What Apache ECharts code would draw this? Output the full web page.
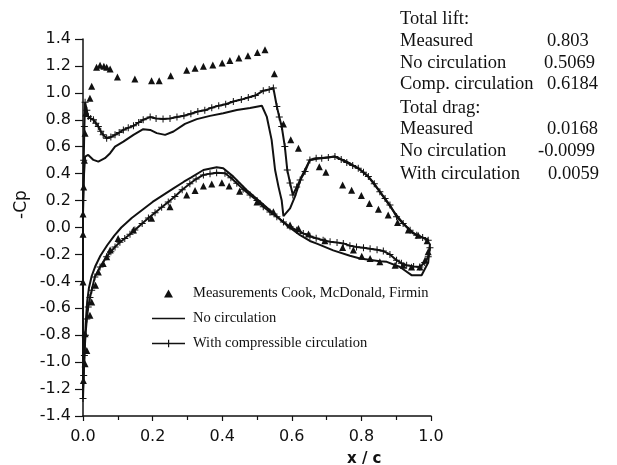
<!DOCTYPE html>
<html><head><meta charset="utf-8">
<script src="https://cdn.jsdelivr.net/npm/echarts@6/dist/echarts.min.js"></script>
<style>html,body{margin:0;padding:0;background:#fff}#c{width:617px;height:465px}</style>
</head><body><div id="c"></div>
<script>
// Measurements (Cook, McDonald, Firmin)
const measUpperX = [0.000,0.000,0.002,0.004,0.006,0.008,0.020,0.025,0.039,0.049,0.060,0.068,0.078,0.099,0.149,0.197,0.219,0.252,0.298,0.322,0.346,0.373,0.400,0.422,0.448,0.474,0.501,0.523,0.550,0.576,0.597,0.619,0.679,0.698,0.746,0.772,0.800,0.823,0.849,0.877,0.904,0.935,0.963,0.989];
const measUpperY = [-0.05,0.10,0.30,0.50,0.70,0.85,0.96,1.05,1.19,1.205,1.198,1.19,1.178,1.118,1.103,1.09,1.09,1.127,1.168,1.182,1.197,1.207,1.222,1.241,1.259,1.276,1.30,1.32,1.142,0.768,0.651,0.589,0.452,0.41,0.316,0.276,0.238,0.179,0.135,0.092,0.038,-0.019,-0.057,-0.099];
const measLowerX = [0.001,0.006,0.011,0.006,0.000,0.020,0.025,0.036,0.044,0.058,0.068,0.078,0.101,0.145,0.197,0.250,0.298,0.322,0.346,0.370,0.399,0.420,0.450,0.500,0.547,0.595,0.619,0.648,0.695,0.746,0.777,0.801,0.825,0.853,0.897,0.920,0.944,0.968,0.983,0.992];
const measLowerY = [-1.136,-1.012,-0.913,-0.79,-0.404,-0.652,-0.553,-0.429,-0.33,-0.267,-0.218,-0.168,-0.081,-0.019,0.068,0.154,0.241,0.275,0.308,0.323,0.333,0.308,0.27,0.19,0.117,0.018,-0.007,-0.049,-0.099,-0.148,-0.168,-0.213,-0.23,-0.255,-0.28,-0.28,-0.293,-0.293,-0.243,-0.181];

// No circulation (leading edge -> trailing edge)
const noCircUpperX = [0.000,0.003,0.006,0.015,0.030,0.044,0.063,0.078,0.092,0.116,0.145,0.173,0.193,0.212,0.236,0.260,0.293,0.327,0.365,0.403,0.442,0.480,0.514,0.528,0.542,0.552,0.562,0.571,0.576,0.595,0.609,0.628,0.652,0.681,0.724,0.758,0.791,0.820,0.849,0.873,0.897,0.920,0.949,0.972,0.992];
const noCircUpperY = [0.10,0.40,0.527,0.539,0.502,0.489,0.515,0.552,0.601,0.638,0.688,0.73,0.725,0.701,0.688,0.713,0.77,0.805,0.829,0.849,0.872,0.887,0.904,0.824,0.651,0.427,0.30,0.20,0.085,0.142,0.229,0.378,0.502,0.515,0.527,0.489,0.44,0.378,0.279,0.191,0.105,0.03,-0.044,-0.07,-0.094];
const noCircLowerX = [0.000,0.004,0.008,0.012,0.017,0.025,0.035,0.050,0.070,0.090,0.110,0.140,0.170,0.200,0.230,0.260,0.290,0.310,0.346,0.384,0.403,0.432,0.470,0.509,0.547,0.585,0.624,0.652,0.672,0.719,0.767,0.796,0.853,0.873,0.911,0.944,0.973,0.992,0.997];
const noCircLowerY = [-1.20,-0.95,-0.70,-0.55,-0.45,-0.36,-0.29,-0.21,-0.13,-0.06,0.00,0.07,0.13,0.19,0.24,0.29,0.34,0.37,0.427,0.447,0.44,0.378,0.279,0.191,0.105,0.018,-0.057,-0.10,-0.12,-0.17,-0.21,-0.23,-0.25,-0.255,-0.293,-0.354,-0.354,-0.26,-0.12];

// With compressible circulation (leading edge -> trailing edge)
const circUpperX = [0.000,0.002,0.004,0.006,0.011,0.015,0.022,0.030,0.037,0.044,0.051,0.058,0.068,0.080,0.092,0.104,0.116,0.130,0.145,0.160,0.173,0.193,0.210,0.230,0.250,0.270,0.290,0.310,0.330,0.350,0.370,0.390,0.410,0.432,0.455,0.475,0.495,0.518,0.535,0.547,0.557,0.564,0.571,0.580,0.587,0.595,0.603,0.614,0.624,0.638,0.652,0.670,0.686,0.705,0.724,0.742,0.758,0.775,0.791,0.806,0.820,0.837,0.853,0.868,0.882,0.901,0.920,0.940,0.959,0.976,0.992];
const circUpperY = [0.20,0.50,0.75,0.93,0.87,0.824,0.81,0.80,0.775,0.75,0.715,0.688,0.663,0.672,0.688,0.705,0.725,0.74,0.755,0.78,0.80,0.82,0.81,0.805,0.81,0.82,0.83,0.845,0.862,0.87,0.89,0.905,0.915,0.936,0.95,0.965,0.98,1.016,1.025,1.036,0.899,0.82,0.75,0.601,0.427,0.33,0.241,0.30,0.353,0.415,0.502,0.515,0.515,0.52,0.527,0.505,0.482,0.46,0.44,0.41,0.378,0.325,0.266,0.215,0.167,0.08,0.03,-0.02,-0.057,-0.075,-0.094];
const circLowerX = [0.000,0.002,0.004,0.007,0.011,0.015,0.020,0.025,0.034,0.049,0.068,0.080,0.092,0.106,0.120,0.135,0.149,0.170,0.188,0.207,0.226,0.245,0.264,0.285,0.307,0.325,0.346,0.365,0.384,0.408,0.425,0.442,0.460,0.480,0.500,0.518,0.537,0.557,0.576,0.595,0.614,0.633,0.652,0.670,0.690,0.710,0.730,0.748,0.767,0.786,0.806,0.825,0.845,0.863,0.882,0.901,0.915,0.930,0.950,0.968,0.982,0.992,0.997];
const circLowerY = [-1.27,-1.10,-0.95,-0.80,-0.68,-0.59,-0.52,-0.466,-0.367,-0.293,-0.218,-0.18,-0.144,-0.11,-0.081,-0.05,-0.019,0.03,0.07,0.11,0.15,0.19,0.23,0.28,0.325,0.36,0.39,0.40,0.407,0.403,0.37,0.328,0.285,0.241,0.20,0.154,0.115,0.08,0.04,0.005,-0.02,-0.044,-0.065,-0.08,-0.094,-0.105,-0.112,-0.118,-0.135,-0.144,-0.15,-0.158,-0.165,-0.175,-0.20,-0.243,-0.265,-0.28,-0.29,-0.293,-0.26,-0.218,-0.15];

const xTicks = [0.0,0.2,0.4,0.6,0.8,1.0];
const yTicks = [-1.4,-1.2,-1.0,-0.8,-0.6,-0.4,-0.2,0.0,0.2,0.4,0.6,0.8,1.0,1.2,1.4];

const infoLabels = ['Total lift:','Measured','No circulation','Comp. circulation','Total drag:','Measured','No circulation','With circulation'];
const infoValues = ['','0.803','0.5069','0.6184','','0.0168','-0.0099','0.0059'];

const seriesNames = ['Measurements Cook, McDonald, Firmin','No circulation','With compressible circulation'];

function zip(xs, ys){ return xs.map((x,i)=>[x, ys[i]]); }
function path(ux, uy, lx, ly){
  const up = zip(ux, uy).reverse();
  return up.concat(zip(lx, ly));
}

const measData = zip(measUpperX, measUpperY).concat(zip(measLowerX, measLowerY));
const noCircData = path(noCircUpperX, noCircUpperY, noCircLowerX, noCircLowerY);
const circData = path(circUpperX, circUpperY, circLowerX, circLowerY);

const INK = '#111';
const chart = echarts.init(document.getElementById('c'), null, {renderer:'canvas'});

const infoYs = [18,40,62,83,107,128,150,173];
const valueXs = [0,547,544,547,0,547,538,548];
const graphics = [];
infoLabels.forEach((t,i)=>{
  graphics.push({type:'text', left:400, top:infoYs[i]-8, style:{text:t, font:'18.5px "Liberation Serif"', fill:INK}});
  if (infoValues[i]) graphics.push({type:'text', left:valueXs[i], top:infoYs[i]-8, style:{text:infoValues[i], font:'18.5px "Liberation Serif"', fill:INK}});
});
graphics.push({type:'text', x:13, y:219, rotation:Math.PI/2, style:{text:'-Cp', font:'17px "DejaVu Sans"', fill:INK, textAlign:'left', textVerticalAlign:'top'}});
graphics.push({type:'text', left:347, top:452, style:{text:'x / c', font:'bold 15px "DejaVu Sans"', fill:INK}});

chart.setOption({
  backgroundColor:'#fff',
  animation:false,
  grid:{left:83, right:186, top:39, bottom:49, containLabel:false},
  xAxis:{type:'value', min:0, max:1, interval:0.2,
    axisLine:{show:true, onZero:false, lineStyle:{color:INK, width:1.5}},
    axisTick:{show:true, inside:false, length:5, lineStyle:{color:INK, width:1.2}},
    minorTick:{show:true, splitNumber:2, length:4, lineStyle:{color:INK, width:1.2}},
    splitLine:{show:false},
    axisLabel:{margin:13, color:INK, fontFamily:'DejaVu Sans', fontSize:16,
      formatter:v=>{const t=xTicks.find(k=>Math.abs(k-v)<1e-6);return t===undefined?'':t.toFixed(1);}}
  },
  yAxis:{type:'value', min:-1.4, max:1.4, interval:0.2,
    axisLine:{show:true, onZero:false, lineStyle:{color:INK, width:1.5}},
    axisTick:{show:true, inside:false, length:8, lineStyle:{color:INK, width:1.2}},
    splitLine:{show:false},
    axisLabel:{margin:12, color:INK, fontFamily:'DejaVu Sans', fontSize:16,
      formatter:v=>{const t=yTicks.find(k=>Math.abs(k-v)<1e-6);return t===undefined?'':t.toFixed(1);}}
  },
  legend:{orient:'vertical', left:152, top:286, padding:0, itemWidth:33, itemHeight:8, itemGap:10,
    textStyle:{fontFamily:'Liberation Serif', fontSize:14.5, color:INK, padding:[0,0,0,3]},
    data:[
      {name:seriesNames[0], icon:'path://M5,0L10,9L0,9Z'},
      {name:seriesNames[1], icon:'path://M0,0h33v1.6h-33z'},
      {name:seriesNames[2], icon:'path://M0,3.2h16v-3h1.2v3h15.8v1.6h-15.8v3h-1.2v-3h-16z'}
    ]},
  graphic:graphics,
  series:[
    {name:seriesNames[0], type:'scatter', symbol:'triangle', symbolSize:7, itemStyle:{color:INK, opacity:1}, data:measData, z:3},
    {name:seriesNames[1], type:'line', symbol:'none', lineStyle:{color:INK, width:2}, itemStyle:{color:INK}, data:noCircData, z:2},
    {name:seriesNames[2], type:'line', symbol:'path://M3,0h1v3h3v1h-3v3h-1v-3h-3v-1h3z', symbolSize:7, showSymbol:true, showAllSymbol:true,
      lineStyle:{color:INK, width:2}, itemStyle:{color:INK}, data:circData, z:2}
  ]
});
</script></body></html>
